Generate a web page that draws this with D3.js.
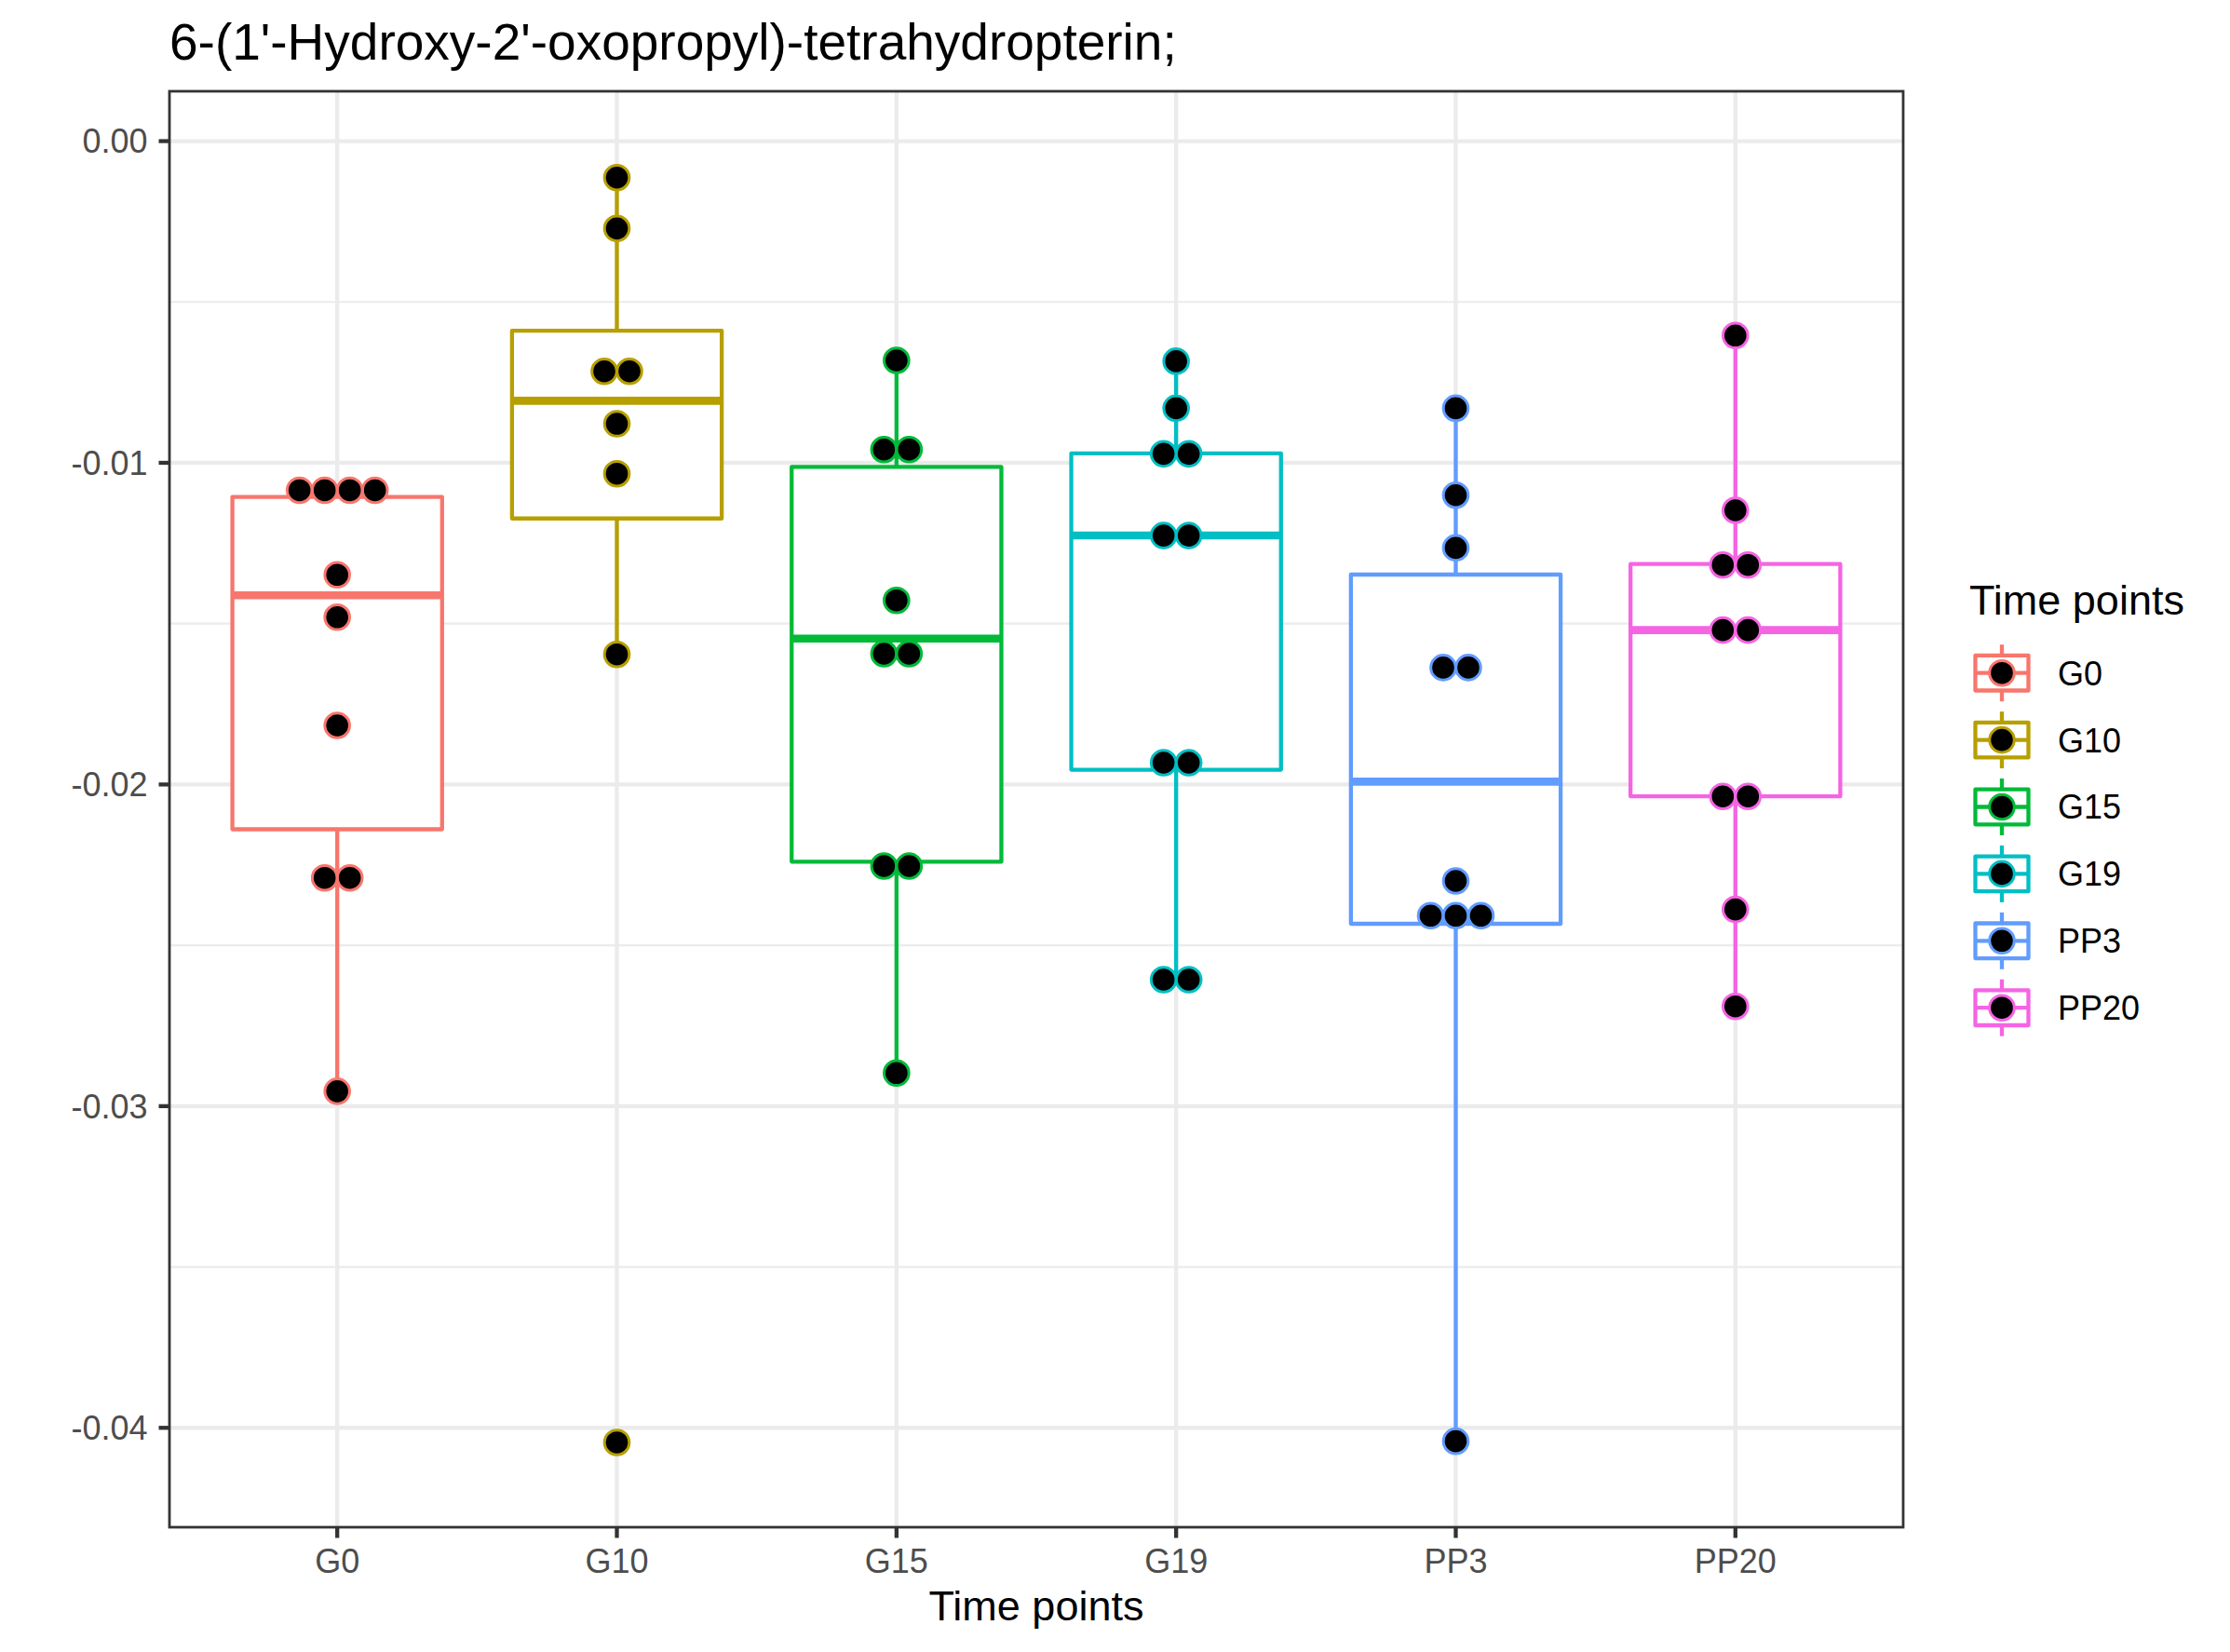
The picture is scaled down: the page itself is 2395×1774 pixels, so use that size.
<!DOCTYPE html>
<html><head><meta charset="utf-8">
<script src="https://cdn.jsdelivr.net/npm/d3@7"></script>
<style>body{margin:0;background:#fff}svg{display:block}text{font-family:"Liberation Sans",Arial,Helvetica,sans-serif}</style>
</head><body><script>
// ---- data ----
const categories = ["G0","G10","G15","G19","PP3","PP20"];
const colors = ["#F8766D","#B79F00","#00BA38","#00BFC4","#619CFF","#F564E3"];
const boxQ3 =     [-0.011061,-0.005891,-0.010126,-0.009706,-0.013475,-0.013148];
const boxMedian = [-0.014121,-0.008071,-0.015464,-0.012259,-0.019913,-0.015201];
const boxQ1 =     [-0.021392,-0.011730,-0.022400,-0.019543,-0.024331,-0.020370];
const whiskerHigh=[-0.010853,-0.001135,-0.006817,-0.006843,-0.008305,-0.006044];
const whiskerLow =[-0.029538,-0.015956,-0.028971,-0.026067,-0.040417,-0.026899];
const dotsG0  = [-0.010853,-0.010853,-0.010853,-0.010853,-0.013484,-0.014801,-0.018165,-0.022904,-0.022904,-0.029538];
const dotsG10 = [-0.001135,-0.002715,-0.007156,-0.007156,-0.008786,-0.010340,-0.015956,-0.040454];
const dotsG15 = [-0.006817,-0.009588,-0.009588,-0.014277,-0.015936,-0.015936,-0.022536,-0.022536,-0.028971];
const dotsG19 = [-0.006843,-0.008305,-0.009721,-0.009721,-0.012262,-0.012262,-0.019323,-0.019323,-0.026067,-0.026067];
const dotsPP3 = [-0.008305,-0.011006,-0.012647,-0.016367,-0.016367,-0.022999,-0.024079,-0.024079,-0.024079,-0.040417];
const dotsPP20= [-0.006044,-0.011478,-0.013177,-0.013177,-0.015201,-0.015201,-0.020370,-0.020370,-0.023885,-0.026899];
const dotSets = [dotsG0,dotsG10,dotsG15,dotsG19,dotsPP3,dotsPP20];
const yTicks = [0,-0.01,-0.02,-0.03,-0.04];
const yTickLabels = ["0.00","-0.01","-0.02","-0.03","-0.04"];
const yMinorTicks = [-0.005,-0.015,-0.025,-0.035];
const titleText = "6-(1'-Hydroxy-2'-oxopropyl)-tetrahydropterin;";
const xTitle = "Time points";
const legendTitle = "Time points";

// ---- layout ----
const W = 2395, H = 1774;
const P = {l:182, r:2044, t:98, b:1640};
const grid = "#EBEBEB", dark = "#333333", tickText = "#4D4D4D";
const lw = 4.3, dotR = 13.3, dotStroke = 3, dotSpacing = 27;

const svg = d3.select("body").append("svg").attr("width",W).attr("height",H);
svg.append("rect").attr("width",W).attr("height",H).attr("fill","#fff");

const x = d3.scalePoint().domain(categories).range([P.l,P.r]).padding(0.6);
const y = d3.scaleLinear().domain([-0.04309,0.00155]).range([P.b,P.t]);
const boxW = x.step()*0.75;

const panel = svg.append("g");
panel.append("defs").append("clipPath").attr("id","clip").append("rect")
  .attr("x",P.l).attr("y",P.t).attr("width",P.r-P.l).attr("height",P.b-P.t);
const g = panel.append("g").attr("clip-path","url(#clip)");

// grid
g.selectAll(".ymin").data(yMinorTicks).join("line")
  .attr("x1",P.l).attr("x2",P.r).attr("y1",d=>y(d)).attr("y2",d=>y(d))
  .attr("stroke",grid).attr("stroke-width",2.2);
g.selectAll(".ymaj").data(yTicks).join("line")
  .attr("x1",P.l).attr("x2",P.r).attr("y1",d=>y(d)).attr("y2",d=>y(d))
  .attr("stroke",grid).attr("stroke-width",lw);
g.selectAll(".xmaj").data(categories).join("line")
  .attr("y1",P.t).attr("y2",P.b).attr("x1",d=>x(d)).attr("x2",d=>x(d))
  .attr("stroke",grid).attr("stroke-width",lw);

// boxes
categories.forEach((c,i)=>{
  const cx = x(c), col = colors[i];
  const bg = g.append("g");
  bg.append("line").attr("x1",cx).attr("x2",cx).attr("y1",y(whiskerHigh[i])).attr("y2",y(boxQ3[i]))
    .attr("stroke",col).attr("stroke-width",lw);
  bg.append("line").attr("x1",cx).attr("x2",cx).attr("y1",y(boxQ1[i])).attr("y2",y(whiskerLow[i]))
    .attr("stroke",col).attr("stroke-width",lw);
  bg.append("rect").attr("x",cx-boxW/2).attr("width",boxW)
    .attr("y",y(boxQ3[i])).attr("height",y(boxQ1[i])-y(boxQ3[i]))
    .attr("fill","#fff").attr("stroke",col).attr("stroke-width",lw).attr("stroke-linejoin","round");
  bg.append("line").attr("x1",cx-boxW/2).attr("x2",cx+boxW/2).attr("y1",y(boxMedian[i])).attr("y2",y(boxMedian[i]))
    .attr("stroke",col).attr("stroke-width",lw*2);
});

// dots
categories.forEach((c,i)=>{
  const groups = d3.groups(dotSets[i], v=>v);
  const pts = [];
  groups.forEach(([v,arr])=>{
    const k = arr.length;
    arr.forEach((_,j)=>pts.push({v, off:(j-(k-1)/2)*dotSpacing}));
  });
  g.selectAll(null).data(pts).join("circle")
    .attr("cx",d=>x(c)+d.off).attr("cy",d=>y(d.v)).attr("r",dotR)
    .attr("fill","#000").attr("stroke",colors[i]).attr("stroke-width",dotStroke);
});

// border
svg.append("rect").attr("x",P.l).attr("y",P.t).attr("width",P.r-P.l).attr("height",P.b-P.t)
  .attr("fill","none").attr("stroke",dark).attr("stroke-width",2.8);

// y axis
const ya = svg.append("g");
ya.selectAll("line").data(yTicks).join("line")
  .attr("x1",P.l-11.5).attr("x2",P.l).attr("y1",d=>y(d)).attr("y2",d=>y(d))
  .attr("stroke",dark).attr("stroke-width",lw);
ya.selectAll("text").data(yTicks).join("text")
  .attr("x",158.5).attr("y",d=>y(d)+12.8).attr("text-anchor","end")
  .attr("font-size",36).attr("fill",tickText).text((d,i)=>yTickLabels[i]);

// x axis
const xa = svg.append("g");
xa.selectAll("line").data(categories).join("line")
  .attr("y1",P.b).attr("y2",P.b+11.5).attr("x1",d=>x(d)).attr("x2",d=>x(d))
  .attr("stroke",dark).attr("stroke-width",lw);
xa.selectAll("text").data(categories).join("text")
  .attr("x",d=>x(d)).attr("y",1688.5).attr("text-anchor","middle")
  .attr("font-size",36).attr("fill",tickText).text(d=>d);

svg.append("text").attr("x",(P.l+P.r)/2).attr("y",1740).attr("text-anchor","middle")
  .attr("font-size",45).attr("fill","#000").text(xTitle);

// title
svg.append("text").attr("x",P.l).attr("y",64).attr("font-size",55).attr("fill","#000").text(titleText);

// legend
const lg = svg.append("g");
lg.append("text").attr("x",2115).attr("y",660).attr("font-size",45).attr("fill","#000").text(legendTitle);
const keyX = 2150, key0 = 722.7, keyStep = 71.9, kBoxW = 57, kBoxH = 37.6, kWh = 30.5;
categories.forEach((c,i)=>{
  const cy = key0 + i*keyStep, col = colors[i];
  lg.append("line").attr("x1",keyX).attr("x2",keyX).attr("y1",cy-kWh).attr("y2",cy-kBoxH/2).attr("stroke",col).attr("stroke-width",lw);
  lg.append("line").attr("x1",keyX).attr("x2",keyX).attr("y1",cy+kBoxH/2).attr("y2",cy+kWh).attr("stroke",col).attr("stroke-width",lw);
  lg.append("rect").attr("x",keyX-kBoxW/2).attr("y",cy-kBoxH/2).attr("width",kBoxW).attr("height",kBoxH)
    .attr("fill","#fff").attr("stroke",col).attr("stroke-width",lw).attr("stroke-linejoin","round");
  lg.append("line").attr("x1",keyX-kBoxW/2).attr("x2",keyX+kBoxW/2).attr("y1",cy).attr("y2",cy).attr("stroke",col).attr("stroke-width",lw);
  lg.append("circle").attr("cx",keyX).attr("cy",cy).attr("r",dotR).attr("fill","#000").attr("stroke",col).attr("stroke-width",dotStroke);
  lg.append("text").attr("x",2210).attr("y",cy+12.9).attr("font-size",36).attr("fill","#000").text(c);
});
</script></body></html>
